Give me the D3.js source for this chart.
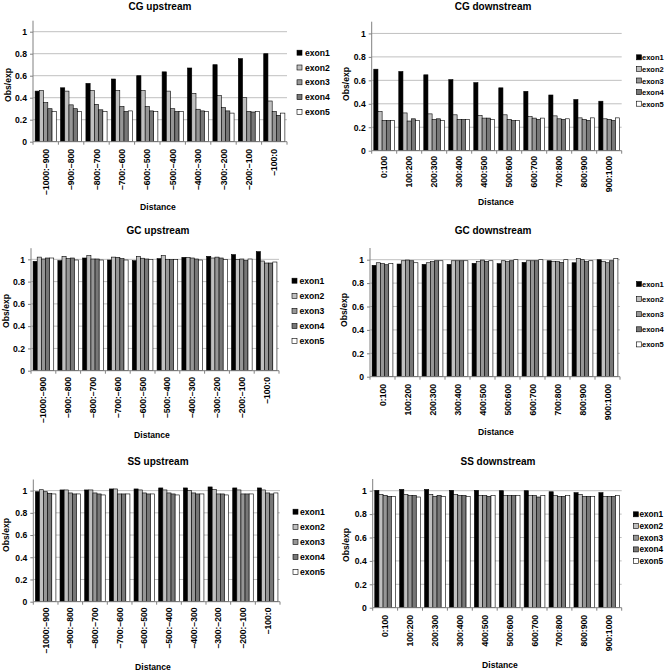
<!DOCTYPE html>
<html><head><meta charset="utf-8">
<script src="https://cdn.jsdelivr.net/npm/d3@7"></script>
<style>
html,body{margin:0;padding:0;background:#fff;}
svg{display:block;font-family:"Liberation Sans",Arial,sans-serif;}
</style></head>
<body>
<svg id="chart" width="665" height="671"></svg>
<script>
const exons = ["exon1","exon2","exon3","exon4","exon5"];
const exonColors = ["#000000","#c0c0c0","#969696","#777777","#ffffff"];
const upCategories = ["–1000:–900","–900:–800","–800:–700","–700:–600","–600:–500","–500:–400","–400:–300","–300:–200","–200:–100","–100:0"];
const downCategories = ["0:100","100:200","200:300","300:400","400:500","500:600","600:700","700:800","800:900","900:1000"];
const yTicks = [0,0.2,0.4,0.6,0.8,1];

// rows: exon1..exon5, columns: categories
const cgUpstream = [
  [0.46,0.49,0.53,0.57,0.60,0.635,0.67,0.70,0.755,0.80],
  [0.465,0.46,0.465,0.465,0.465,0.46,0.44,0.42,0.40,0.37],
  [0.355,0.335,0.34,0.32,0.32,0.30,0.295,0.31,0.275,0.275],
  [0.30,0.30,0.29,0.275,0.28,0.275,0.28,0.28,0.27,0.24],
  [0.275,0.275,0.275,0.28,0.275,0.275,0.275,0.26,0.275,0.26]
];
const cgDownstream = [
  [0.695,0.675,0.647,0.606,0.58,0.536,0.506,0.475,0.436,0.422],
  [0.333,0.322,0.314,0.306,0.30,0.306,0.29,0.297,0.28,0.272],
  [0.258,0.253,0.267,0.267,0.278,0.267,0.278,0.272,0.267,0.267],
  [0.258,0.272,0.272,0.267,0.278,0.258,0.267,0.267,0.258,0.258],
  [0.258,0.258,0.258,0.267,0.267,0.258,0.278,0.272,0.28,0.28]
];
const gcUpstream = [
  [0.982,0.988,1.012,0.994,0.988,1.006,1.018,1.027,1.042,1.069],
  [1.02,1.027,1.033,1.02,1.027,1.033,1.018,1.012,0.997,0.985],
  [1.003,1.006,1.003,1.018,1.01,0.997,1.012,1.02,1.003,0.967],
  [1.012,1.012,1.003,1.006,1.003,0.997,1.003,1.012,0.988,0.967],
  [1.012,0.994,0.994,0.994,1.0,0.997,0.994,1.0,1.003,0.976]
];
const gcDownstream = [
  [0.952,0.963,0.96,0.96,0.969,0.966,0.977,0.991,0.974,1.0],
  [0.974,0.991,0.974,0.991,0.983,0.991,0.991,0.983,1.009,0.983],
  [0.966,0.997,0.983,0.991,0.997,0.983,0.991,0.983,1.0,0.974],
  [0.957,0.991,0.991,0.991,0.986,0.991,0.991,0.977,0.983,0.991],
  [0.969,0.974,0.991,0.991,0.991,1.0,1.0,1.0,0.991,1.009]
];
const ssUpstream = [
  [0.99,1.006,1.006,1.015,1.015,1.024,1.024,1.033,1.024,1.024],
  [1.008,1.006,1.006,1.015,1.006,1.006,1.0,1.009,1.006,1.006],
  [0.99,0.979,0.979,0.97,0.979,0.979,0.979,0.97,0.97,0.979],
  [0.976,0.97,0.97,0.97,0.97,0.97,0.97,0.97,0.97,0.97],
  [0.97,0.97,0.961,0.97,0.97,0.961,0.97,0.961,0.97,0.979]
];
const ssDownstream = [
  [1.003,1.011,1.011,1.003,1.003,1.0,1.0,0.991,0.983,0.983],
  [0.969,0.969,0.969,0.969,0.96,0.96,0.96,0.96,0.969,0.952],
  [0.96,0.96,0.952,0.96,0.96,0.96,0.96,0.952,0.952,0.952],
  [0.952,0.96,0.96,0.96,0.952,0.96,0.946,0.952,0.952,0.952],
  [0.952,0.946,0.952,0.952,0.96,0.96,0.96,0.96,0.952,0.96]
];

const panels = [
  {title:"CG upstream", cats:upCategories, data:cgUpstream,
   L:33, R:287, B:141.7, T:20.7, titleX:160, titleY:9.5,
   legX:297, legTextX:305, legY:52.7, legStep:14.8, legFs:8.6, labTop:149, distX:158, distY:210, yLabX:8, yLabY:85},
  {title:"CG downstream", cats:downCategories, data:cgDownstream,
   L:371.7, R:621.7, B:150.7, T:21.7, titleX:493, titleY:9.5,
   legX:636.5, legTextX:642, legY:57.3, legStep:11.6, legFs:7.5, labTop:156, distX:496, distY:205, yLabX:346, yLabY:84},
  {title:"GC upstream", cats:upCategories, data:gcUpstream,
   L:31, R:279, B:370.7, T:248.2, titleX:158, titleY:233.5,
   legX:292, legTextX:299.5, legY:280.7, legStep:15.1, legFs:8.6, labTop:377, distX:152, distY:438, yLabX:6, yLabY:311},
  {title:"GC downstream", cats:downCategories, data:gcDownstream,
   L:370, R:620, B:376.7, T:248, titleX:493, titleY:233.5,
   legX:636.5, legTextX:642, legY:284, legStep:15.1, legFs:7.5, labTop:384, distX:496, distY:435, yLabX:344, yLabY:310},
  {title:"SS upstream", cats:upCategories, data:ssUpstream,
   L:33.3, R:280, B:601.7, T:479.5, titleX:158, titleY:465,
   legX:293, legTextX:300, legY:511.7, legStep:15.1, legFs:8.6, labTop:607.5, distX:153, distY:670, yLabX:6, yLabY:535},
  {title:"SS downstream", cats:downCategories, data:ssDownstream,
   L:372.7, R:621.7, B:607.7, T:479, titleX:498, titleY:465,
   legX:633.3, legTextX:639.5, legY:514.3, legStep:11.7, legFs:8.2, labTop:615, distX:500, distY:668, yLabX:346, yLabY:545}
];

const svg = d3.select("#chart");
const axisColor = "#808080";
const gridColor = "#c0c0c0";
const fs = 8.6;

panels.forEach(p => {
  const g = svg.append("g");
  const x = d3.scaleBand().domain(p.cats).range([p.L, p.R]).paddingInner(1/6).paddingOuter(1/12);
  const xs = d3.scaleBand().domain(exons).range([0, x.bandwidth()]);
  const y = d3.scaleLinear().domain([0, 1.1]).range([p.B, p.T]);
  const step = (p.R - p.L) / p.cats.length;

  // gridlines
  g.selectAll("line.grid").data(yTicks.filter(d => d > 0)).enter().append("line")
    .attr("x1", p.L).attr("x2", p.R).attr("y1", d => y(d)).attr("y2", d => y(d))
    .attr("stroke", gridColor).attr("stroke-width", 1);

  // bars
  exons.forEach((e, i) => {
    g.selectAll("rect.b" + i).data(p.data[i]).enter().append("rect")
      .attr("x", (d, j) => x(p.cats[j]) + xs(e))
      .attr("y", d => y(d))
      .attr("width", xs.bandwidth())
      .attr("height", d => y(0) - y(d))
      .attr("fill", exonColors[i])
      .attr("stroke", "#000").attr("stroke-width", 0.6);
  });

  // y axis
  const yAxis = d3.axisLeft(y).tickValues(yTicks).tickSize(3).tickPadding(3)
    .tickFormat(d => d3.format("")(+d.toFixed(1)));
  const ya = g.append("g").attr("transform", `translate(${p.L},0)`).call(yAxis);
  ya.select(".domain").attr("stroke", axisColor).attr("d", `M-0,${p.B}V${p.T}`);
  ya.selectAll(".tick line").attr("stroke", axisColor);
  ya.selectAll("text").attr("font-size", fs).attr("font-weight", "bold").attr("fill", "#000")
    .attr("font-family", "Liberation Sans, Arial, sans-serif");

  // x axis line and separator ticks
  g.append("line").attr("x1", p.L).attr("x2", p.R).attr("y1", p.B).attr("y2", p.B)
    .attr("stroke", axisColor);
  g.selectAll("line.xt").data(d3.range(p.cats.length + 1)).enter().append("line")
    .attr("x1", i => p.L + i * step).attr("x2", i => p.L + i * step)
    .attr("y1", p.B).attr("y2", p.B + 3).attr("stroke", axisColor);

  // x tick labels rotated
  g.selectAll("text.xl").data(p.cats).enter().append("text")
    .attr("transform", d => `translate(${x(d) + x.bandwidth() / 2 + 3},${p.labTop}) rotate(-90)`)
    .attr("text-anchor", "end")
    .attr("font-size", fs).attr("font-weight", "bold")
    .text(d => d);

  // title
  g.append("text").attr("x", p.titleX).attr("y", p.titleY).attr("text-anchor", "middle")
    .attr("font-size", 10).attr("font-weight", "bold").text(p.title);

  // axis titles
  g.append("text").attr("x", p.distX).attr("y", p.distY).attr("text-anchor", "middle")
    .attr("font-size", fs).attr("font-weight", "bold").text("Distance");
  g.append("text").attr("transform", `translate(${p.yLabX + 3},${p.yLabY}) rotate(-90)`)
    .attr("text-anchor", "middle")
    .attr("font-size", fs).attr("font-weight", "bold").text("Obs/exp");

  // legend
  exons.forEach((e, i) => {
    const cy = p.legY + i * p.legStep;
    g.append("rect").attr("x", p.legX).attr("y", cy - 2.5).attr("width", 5).attr("height", 5)
      .attr("fill", exonColors[i]).attr("stroke", "#000").attr("stroke-width", 0.6);
    g.append("text").attr("x", p.legTextX).attr("y", cy + 3)
      .attr("font-size", p.legFs).attr("font-weight", "bold").text(e);
  });
});
</script>
</body></html>
